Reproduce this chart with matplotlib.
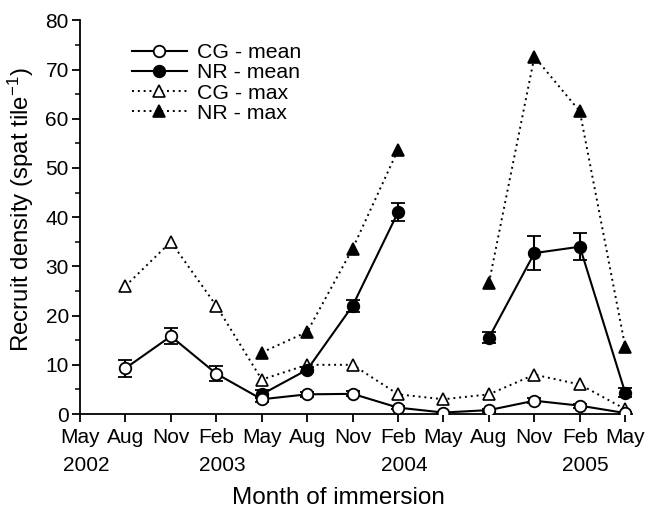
import numpy as np
import matplotlib
matplotlib.use("Agg")
import matplotlib.pyplot as plt
from matplotlib.ticker import MultipleLocator
from matplotlib.lines import Line2D
import matplotlib.transforms as mtransforms

plt.rcParams['font.family'] = ['Liberation Sans', 'DejaVu Sans']
plt.rcParams['mathtext.fontset'] = 'custom'
plt.rcParams['mathtext.rm'] = 'Liberation Sans'
plt.rcParams['mathtext.it'] = 'Liberation Sans'

# quarters from May 2002 to May 2005
months = ["May", "Aug", "Nov", "Feb", "May", "Aug", "Nov",
          "Feb", "May", "Aug", "Nov", "Feb", "May"]
years = ["2002", "2003", "2004", "2005"]
year_pos = [0, 3, 7, 11]
x = np.arange(len(months))

nan = np.nan
cg_mean = [nan, 9.3, 15.8, 8.2, 3.0, 4.0, 4.1, 1.3, 0.3, 0.8, 2.7, 1.7, 0.2]
cg_err = [nan, 1.7, 1.6, 1.5, 0.5, 0.5, 0.5, 0.3, 0.2, 0.3, 0.5, 0.4, 0.2]
nr_mean = [nan, nan, nan, nan, 4.0, 9.0, 22.0, 41.0, nan, 15.5, 32.7, 34.0, 4.3]
nr_err = [nan, nan, nan, nan, 0.8, 0.5, 1.2, 1.8, nan, 1.1, 3.5, 2.8, 0.9]
cg_max = [nan, 26.0, 35.0, 22.0, 7.0, 10.0, 10.0, 4.0, 3.0, 4.0, 8.0, 6.0, 1.0]
nr_max = [nan, nan, nan, nan, 12.5, 16.7, 33.6, 53.7, nan, 26.6, 72.6, 61.5, 13.6]

fig = plt.figure(figsize=(6.62, 5.08), dpi=100)
ax = fig.add_axes([0.1208, 0.185, 0.834, 0.775])

dot = (0, (1, 2))
circ = dict(marker='o', ms=8.3, mec='black', mew=1.3)
tri = dict(marker='^', ms=9, mec='black', mew=1.2)

ax.plot(x, cg_max, linestyle=dot, color='black', lw=1.4, mfc='white', zorder=3, **tri)
ax.plot(x, nr_max, linestyle=dot, color='black', lw=1.4, mfc='black', zorder=3, **tri)
ax.errorbar(x, nr_mean, yerr=nr_err, color='black', lw=1.5, mfc='black',
            capsize=5, capthick=1.5, elinewidth=1.5, zorder=4, **circ)
ax.errorbar(x, cg_mean, yerr=cg_err, color='black', lw=1.5, mfc='white',
            capsize=5, capthick=1.5, elinewidth=1.5, zorder=5, **circ)

ax.set_xlim(0, 12.15)
ax.set_ylim(0, 80)
ax.set_xticks(x)
ax.set_xticklabels(months)
ax.yaxis.set_major_locator(MultipleLocator(10))
ax.yaxis.set_minor_locator(MultipleLocator(5))
ax.tick_params(axis='both', which='major', direction='out', length=6, width=1.3,
               labelsize=15, pad=2)
ax.tick_params(axis='y', which='minor', direction='out', length=3.5, width=1.1)
ax.tick_params(axis='x', pad=4)
for s in ['top', 'right']:
    ax.spines[s].set_visible(False)
for s in ['left', 'bottom']:
    ax.spines[s].set_linewidth(1.3)

trans = mtransforms.blended_transform_factory(ax.transData, ax.transAxes)
for yr, p in zip(years, year_pos):
    ax.text(p + 0.13, -0.13, yr, transform=trans, ha='center', va='center',
            fontsize=15)

ax.set_xlabel('Month of immersion', fontsize=17.5)
ax.xaxis.set_label_coords(0.469, -0.185)
ax.set_ylabel('Recruit density (spat tile$^{-1}$)', fontsize=17.3)
ax.yaxis.set_label_coords(-0.08, 0.52)

handles = [
    Line2D([], [], color='black', lw=1.5, mfc='white', **circ),
    Line2D([], [], color='black', lw=1.5, mfc='black', **circ),
    Line2D([], [], color='black', lw=1.4, ls=dot, mfc='white', **tri),
    Line2D([], [], color='black', lw=1.4, ls=dot, mfc='black', **tri),
]
labels = ['CG - mean', 'NR - mean', 'CG - max', 'NR - max']
ax.legend(handles, labels, loc='upper left',
          bbox_to_anchor=(0.078, 0.963), frameon=False, fontsize=15.3,
          handlelength=2.6, handletextpad=0.5, labelspacing=0.05,
          borderaxespad=0)

fig.savefig('out.png', dpi=100)
